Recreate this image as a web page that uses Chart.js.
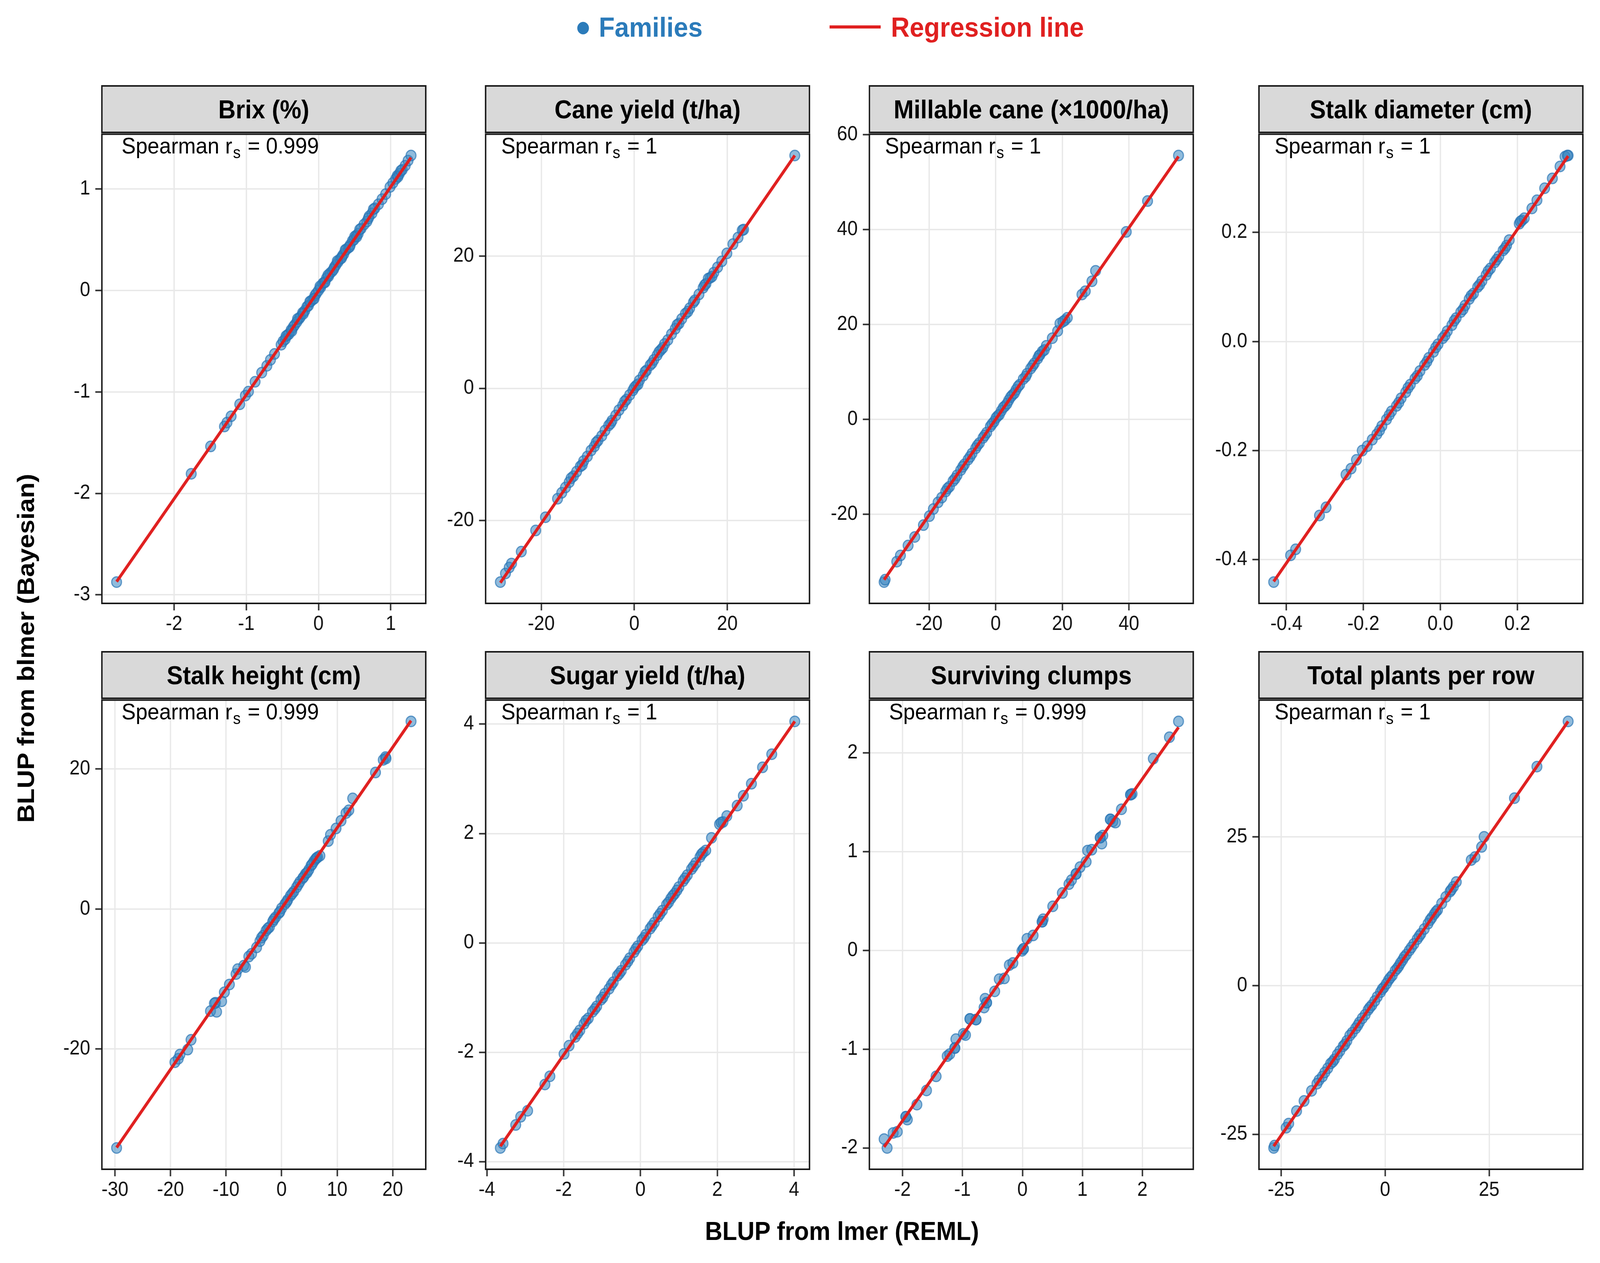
<!DOCTYPE html>
<html>
<head>
<meta charset="utf-8">
<script src="https://cdn.jsdelivr.net/npm/chart.js@4.4.1/dist/chart.umd.min.js"></script>
<style>
html,body{margin:0;padding:0;background:#ffffff;overflow:hidden;}
#page{position:absolute;left:0;top:0;width:4382px;height:3234px;transform-origin:0 0;background:#fff;font-family:"Liberation Sans",Arial,Helvetica,sans-serif;}
canvas{position:absolute;z-index:1;}
.strip{position:absolute;z-index:3;box-sizing:border-box;background:#d9d9d9;border:4px solid #1a1a1a;display:flex;align-items:center;justify-content:center;font-weight:bold;font-size:66px;color:#000;white-space:nowrap;}
.note{position:absolute;z-index:2;font-size:58px;line-height:58px;color:#000;white-space:nowrap;}
.note span{display:inline-block;transform:translateX(10%);}
.note sub{font-size:42px;line-height:0;vertical-align:baseline;position:relative;top:12px;margin-left:2px;margin-right:3px;}
.title{position:absolute;font-weight:bold;font-size:66px;line-height:66px;color:#000;white-space:nowrap;}
.leg{position:absolute;font-weight:bold;font-size:71px;line-height:71px;white-space:nowrap;transform:translateY(-50%);}
</style>
</head>
<body>
<div id="page"></div>
<script>
// ---------------- DATA ----------------
const panelTitles = ['Brix (%)','Cane yield (t/ha)','Millable cane (\u00d71000/ha)','Stalk diameter (cm)',
                     'Stalk height (cm)','Sugar yield (t/ha)','Surviving clumps','Total plants per row'];
const spearmanRs = ['0.999','1','1','1','0.999','1','0.999','1'];

// Brix (%)
const brixX = [-2.795,-1.762,-1.493,-1.302,-1.267,-1.21,-1.09,-1.012,-0.97,-0.878,-0.786,-0.715,-0.665,-0.609,-0.517,-0.49,-0.46,-0.43,-0.41,-0.38,-0.35,-0.33,-0.30,-0.27,-0.25,-0.22,-0.19,-0.16,-0.14,-0.11,-0.08,-0.05,-0.03,0.0,0.03,0.06,0.08,0.11,0.14,0.16,0.19,0.22,0.24,0.27,0.30,0.33,0.35,0.38,0.41,0.44,0.47,0.49,0.52,0.55,0.59,0.63,0.67,0.70,0.74,0.78,0.83,0.88,0.93,0.99,1.03,1.07,1.09,1.12,1.16,1.20,1.24,1.281,
               -0.45,-0.37,-0.29,-0.21,-0.12,-0.06,0.02,0.09,0.13,0.21,0.26,0.32,0.37,0.43,0.50,0.53,0.57,0.69,0.76,1.10,1.14];
const brixY = [-2.874,-1.807,-1.537,-1.341,-1.302,-1.24,-1.122,-1.036,-0.997,-0.90,-0.81,-0.743,-0.684,-0.626,-0.535,-0.50,-0.48,-0.44,-0.43,-0.39,-0.36,-0.34,-0.31,-0.28,-0.26,-0.22,-0.20,-0.16,-0.15,-0.11,-0.09,-0.05,-0.03,0.0,0.03,0.07,0.08,0.12,0.14,0.17,0.19,0.23,0.25,0.28,0.31,0.34,0.36,0.40,0.42,0.45,0.49,0.50,0.54,0.56,0.61,0.65,0.68,0.73,0.76,0.81,0.85,0.90,0.95,1.02,1.06,1.10,1.13,1.15,1.19,1.23,1.28,1.33,
               -0.45,-0.40,-0.28,-0.23,-0.11,-0.08,0.04,0.08,0.15,0.21,0.29,0.32,0.40,0.43,0.53,0.53,0.60,0.71,0.80,1.12,1.18];
const brixRegX = [-2.795, 1.281];
const brixRegY = [-2.87, 1.31];
const brixTicksX = [-2,-1,0,1];
const brixTicksY = [-3,-2,-1,0,1];

// Cane yield (t/ha)
const caneX = [-28.8,-27.7,-26.9,-26.4,-24.3,-21.2,-19.1,-16.5,-15.6,-14.8,-14.0,-13.1,-12.4,-11.6,-10.9,-10.1,-9.3,-8.6,-7.8,-7.0,-6.3,-5.5,-4.8,-4.0,-3.3,-2.5,-1.7,-1.0,-0.3,0.4,1.1,1.9,2.6,3.4,4.2,4.9,5.7,6.5,7.2,8.0,8.8,9.6,10.2,11.0,11.9,12.7,13.0,13.9,14.8,15.4,16.3,17.1,17.9,18.8,19.9,21.2,22.3,23.2,34.5,
               -13.6,-11.2,-8.2,-5.1,-2.1,0.0,0.8,2.3,3.8,5.3,6.1,9.2,11.5,15.1,15.9,16.7,23.5];
const caneY = [-29.3,-28.0,-27.1,-26.5,-24.7,-21.5,-19.5,-16.7,-15.8,-15.0,-14.2,-13.3,-12.6,-11.8,-11.0,-10.3,-9.4,-8.8,-7.9,-7.2,-6.4,-5.6,-4.9,-4.1,-3.3,-2.6,-1.7,-1.0,-0.3,0.4,1.2,1.9,2.7,3.5,4.3,5.0,5.8,6.7,7.3,8.2,9.0,9.8,10.5,11.3,12.1,13.0,13.3,14.2,15.2,15.8,16.7,17.5,18.3,19.2,20.4,21.8,22.8,23.9,35.2,
               -13.6,-11.6,-8.2,-5.3,-2.0,0.1,0.6,2.5,3.8,5.5,6.1,9.6,11.6,15.6,16.6,16.9,24.0];
const caneRegX = [-28.8, 34.5];
const caneRegY = [-29.4, 35.2];
const caneTicksX = [-20,0,20];
const caneTicksY = [-20,0,20];

// Millable cane (x1000/ha)
const millX = [-33.5,-33.2,-29.7,-28.6,-26.3,-24.3,-21.7,-19.9,-18.7,-17.3,-16.2,-15.0,-13.9,-12.8,-11.6,-10.5,-9.4,-8.3,-7.1,-6.0,-4.9,-3.8,-2.7,-1.6,-0.5,0.6,1.7,2.8,3.9,5.0,6.1,7.2,8.3,9.4,10.5,11.6,12.6,13.3,14.0,15.2,17.0,18.6,19.3,20.8,21.5,25.9,26.9,28.9,30.0,39.2,45.6,54.9,
               -14.5,-12.2,-9.9,-7.7,-5.5,-3.3,-1.1,0.1,1.1,2.3,3.4,4.5,5.6,6.7,9.0,11.1,13.0,14.6,20.2];
const millY = [-34.3,-33.8,-30.0,-28.7,-26.6,-24.8,-22.3,-20.4,-18.9,-17.5,-16.5,-15.2,-14.2,-13.0,-11.8,-10.7,-9.5,-8.5,-7.2,-6.1,-5.0,-3.9,-2.8,-1.5,-0.5,0.7,1.8,2.8,4.0,5.1,6.2,7.3,8.5,9.6,10.7,11.8,12.8,13.6,14.3,15.5,17.1,18.6,20.2,20.9,21.4,26.3,27.0,29.1,31.3,39.5,46.0,55.6,
               -14.6,-12.5,-10.0,-7.9,-5.5,-3.4,-1.0,0.3,1.0,2.5,3.3,4.7,5.5,6.9,9.0,11.3,13.4,14.6,20.6];
const millRegX = [-33.5, 54.9];
const millRegY = [-33.8, 55.4];
const millTicksX = [-20,0,20,40];
const millTicksY = [-20,0,20,40,60];

// Stalk diameter (cm)
const diamX = [-0.433,-0.389,-0.376,-0.314,-0.297,-0.245,-0.232,-0.218,-0.203,-0.19,-0.177,-0.165,-0.152,-0.14,-0.127,-0.114,-0.102,-0.09,-0.078,-0.066,-0.053,-0.041,-0.03,-0.018,-0.006,0.006,0.018,0.03,0.041,0.053,0.064,0.075,0.086,0.097,0.108,0.119,0.13,0.141,0.152,0.163,0.172,0.179,0.205,0.212,0.218,0.238,0.251,0.271,0.291,0.311,0.324,0.332,
               -0.158,-0.133,-0.108,-0.084,-0.06,-0.035,-0.012,0.012,0.036,0.059,0.08,0.102,0.124,0.146,0.168,0.208,0.33];
const diamY = [-0.441,-0.392,-0.381,-0.319,-0.304,-0.244,-0.233,-0.217,-0.2,-0.192,-0.18,-0.17,-0.155,-0.143,-0.128,-0.118,-0.104,-0.093,-0.079,-0.068,-0.054,-0.043,-0.03,-0.019,-0.005,0.006,0.019,0.03,0.043,0.054,0.066,0.078,0.088,0.1,0.111,0.122,0.134,0.145,0.156,0.167,0.176,0.186,0.216,0.222,0.226,0.244,0.259,0.281,0.299,0.321,0.339,0.341,
               -0.163,-0.135,-0.112,-0.085,-0.063,-0.037,-0.011,0.011,0.038,0.059,0.084,0.104,0.129,0.15,0.171,0.22,0.341];
const diamRegX = [-0.433, 0.332];
const diamRegY = [-0.44, 0.34];
const diamTicksX = [-0.4,-0.2,0.0,0.2];
const diamTicksY = [-0.4,-0.2,0.0,0.2];

// Stalk height (cm)
const heightX = [-29.7,-19.2,-18.6,-18.3,-16.9,-16.3,-12.8,-11.9,-11.7,-10.8,-10.3,-9.4,-8.2,-6.8,-6.5,-5.4,-4.5,-3.9,-3.3,-2.8,-2.2,-1.6,-1.1,-0.5,0.0,0.6,1.1,1.6,2.2,2.7,3.3,3.8,4.3,4.9,5.3,5.8,6.1,6.5,8.4,8.8,9.8,10.7,11.6,12.1,12.8,16.9,18.3,18.7,23.3,
                 -3.6,-2.5,-1.4,-0.3,0.9,1.9,3.0,4.0,4.6,5.5,6.3,6.9,-5.9,-7.9,-12.1,18.8];
const heightY = [-34.15,-21.9,-21.4,-20.8,-20.1,-18.7,-14.6,-13.4,-14.7,-13.2,-11.9,-10.8,-9.3,-8.1,-8.3,-6.4,-5.5,-4.6,-3.8,-3.1,-2.6,-1.8,-1.2,-0.6,0.1,0.7,1.3,1.9,2.5,3.1,3.9,4.4,5.0,5.6,6.2,6.8,7.1,7.4,9.7,10.6,11.5,12.6,13.7,14.1,15.8,19.5,21.3,21.7,26.8,
                 -4.1,-2.8,-1.5,-0.4,1.0,2.2,3.5,4.6,5.2,6.4,7.3,7.6,-6.8,-8.6,-13.5,21.5];
const heightRegX = [-29.7, 23.3];
const heightRegY = [-34.1, 26.9];
const heightTicksX = [-30,-20,-10,0,10,20];
const heightTicksY = [-20,0,20];

// Sugar yield (t/ha)
const sugarX = [-3.65,-3.58,-3.25,-3.12,-2.94,-2.49,-2.36,-1.99,-1.86,-1.70,-1.58,-1.47,-1.36,-1.25,-1.14,-1.03,-0.93,-0.82,-0.71,-0.60,-0.50,-0.39,-0.28,-0.17,-0.07,0.04,0.14,0.25,0.36,0.46,0.57,0.68,0.79,0.89,1.00,1.11,1.22,1.33,1.44,1.55,1.63,1.70,1.85,2.06,2.15,2.25,2.52,2.68,2.89,3.18,3.42,4.02,
                -1.64,-1.42,-1.19,-0.98,-0.76,-0.55,-0.33,-0.12,0.09,0.30,0.51,0.73,0.84,0.95,1.16,1.38,1.59,2.10];
const sugarY = [-3.75,-3.67,-3.33,-3.18,-3.07,-2.59,-2.44,-2.03,-1.88,-1.72,-1.60,-1.48,-1.38,-1.26,-1.16,-1.04,-0.93,-0.84,-0.72,-0.60,-0.51,-0.40,-0.28,-0.17,-0.06,0.05,0.15,0.26,0.37,0.48,0.59,0.70,0.81,0.90,1.02,1.13,1.24,1.35,1.46,1.57,1.65,1.69,1.92,2.17,2.21,2.32,2.51,2.69,2.91,3.21,3.45,4.05,
                -1.66,-1.42,-1.21,-1.00,-0.77,-0.56,-0.34,-0.11,0.09,0.31,0.53,0.74,0.86,0.96,1.18,1.40,1.62,2.20];
const sugarRegX = [-3.65, 4.02];
const sugarRegY = [-3.72, 4.05];
const sugarTicksX = [-4,-2,0,2,4];
const sugarTicksY = [-4,-2,0,2,4];

// Surviving clumps
const clumpX = [-2.307,-2.257,-2.156,-2.088,-1.945,-1.92,-1.76,-1.60,-1.44,-1.255,-1.213,-1.128,-1.11,-0.985,-0.95,-0.876,-0.775,-0.64,-0.623,-0.598,-0.463,-0.387,-0.303,-0.219,-0.16,-0.008,0.017,0.076,0.177,0.328,0.345,0.505,0.665,0.775,0.817,0.893,0.96,1.061,1.086,1.154,1.297,1.339,1.322,1.465,1.507,1.549,1.65,1.802,1.827,2.181,2.45,2.602,
                -0.775,-0.876,0.328,-0.598,1.465,1.297,1.802,0.017,-1.945,-1.128,0.893];
const clumpY = [-1.91,-2.0,-1.848,-1.836,-1.684,-1.713,-1.561,-1.418,-1.275,-1.07,-1.049,-0.988,-0.898,-0.844,-0.857,-0.693,-0.70,-0.578,-0.488,-0.529,-0.414,-0.291,-0.283,-0.148,-0.127,-0.004,0.016,0.119,0.152,0.291,0.316,0.447,0.582,0.672,0.713,0.775,0.844,0.898,1.012,1.02,1.143,1.164,1.082,1.328,1.307,1.295,1.43,1.578,1.586,1.943,2.16,2.32,
                -0.70,-0.693,0.291,-0.529,1.328,1.143,1.578,0.016,-1.684,-0.988,0.775];
const clumpRegX = [-2.307, 2.602];
const clumpRegY = [-1.99, 2.26];
const clumpTicksX = [-2,-1,0,1,2];
const clumpTicksY = [-2,-1,0,1,2];

// Total plants per row
const plantsX = [-26.8,-26.6,-23.8,-23.2,-21.3,-19.5,-17.7,-15.9,-15.1,-13.8,-13.1,-12.2,-10.9,-10.1,-9.2,-7.9,-7.1,-6.2,-4.8,-4.1,-3.2,-1.9,-1.1,-0.3,0.8,1.7,2.4,3.3,4.2,5.1,5.8,6.9,7.7,8.6,9.4,10.3,11.2,11.8,12.6,13.6,14.6,15.6,16.4,17.1,20.7,21.6,23.2,23.8,31.1,36.5,44.0,
                 -16.4,-14.5,-12.6,-11.5,-9.7,-8.5,-6.6,-5.5,-3.7,-2.5,-0.7,0.3,1.2,2.9,3.7,4.6,6.3,8.2,10.8,12.2,15.9];
const plantsY = [-27.3,-26.9,-23.9,-23.2,-21.1,-19.4,-17.7,-15.9,-15.3,-13.9,-13.1,-12.4,-11.0,-10.2,-9.3,-7.9,-7.2,-6.2,-4.9,-4.1,-3.3,-1.9,-1.1,-0.3,0.9,1.7,2.5,3.3,4.3,5.2,5.9,7.0,7.8,8.7,9.5,10.4,11.4,12.0,12.7,13.8,14.9,15.8,16.6,17.4,21.1,21.6,23.3,25.0,31.5,36.8,44.4,
                 -16.5,-14.6,-12.8,-11.6,-9.9,-8.4,-6.7,-5.5,-3.7,-2.6,-0.6,0.3,1.3,2.9,3.8,4.8,6.4,8.3,11.0,12.4,16.1];
const plantsRegX = [-26.8, 44.0];
const plantsRegY = [-27.0, 44.4];
const plantsTicksX = [-25,0,25];
const plantsTicksY = [-25,0,25];

const tickDecimals = [0,0,0,1,0,0,0,0];

// ---------------- LAYOUT / STYLE ----------------
const PAGE_W = 4382, PAGE_H = 3234;
const COL_LEFT = [279, 1330, 2381, 3448];
const ROW_PLOT_TOP = [339, 1788];
const ROW_STRIP_TOP = [220, 1669];
const PANEL_W = 887, PANEL_H = 1206;
const Y_W = 220, X_H = 120, R_PAD = 60, T_PAD = 40;
const RED = '#e02020';
const BLUE = '#2b7bba';

// fit the 4382x3234 design to whatever viewport the page is given
const page = document.getElementById('page');
const vw = window.innerWidth || document.documentElement.clientWidth || PAGE_W;
const vh = window.innerHeight || document.documentElement.clientHeight || PAGE_H;
const SX = vw / PAGE_W, SY = vh / PAGE_H;
page.style.transform = 'scale(' + SX + ',' + SY + ')';
const DPR = (window.devicePixelRatio || 1) * Math.max(SX, SY);

Chart.defaults.font.family = "'Liberation Sans', Arial, sans-serif";

const panels = [
  {x:brixX, y:brixY, rx:brixRegX, ry:brixRegY, tx:brixTicksX, ty:brixTicksY},
  {x:caneX, y:caneY, rx:caneRegX, ry:caneRegY, tx:caneTicksX, ty:caneTicksY},
  {x:millX, y:millY, rx:millRegX, ry:millRegY, tx:millTicksX, ty:millTicksY},
  {x:diamX, y:diamY, rx:diamRegX, ry:diamRegY, tx:diamTicksX, ty:diamTicksY},
  {x:heightX, y:heightY, rx:heightRegX, ry:heightRegY, tx:heightTicksX, ty:heightTicksY},
  {x:sugarX, y:sugarY, rx:sugarRegX, ry:sugarRegY, tx:sugarTicksX, ty:sugarTicksY},
  {x:clumpX, y:clumpY, rx:clumpRegX, ry:clumpRegY, tx:clumpTicksX, ty:clumpTicksY},
  {x:plantsX, y:plantsY, rx:plantsRegX, ry:plantsRegY, tx:plantsTicksX, ty:plantsTicksY}
];

const panelBorder = {
  id:'panelBorder',
  afterDraw(chart){
    const a = chart.chartArea, c = chart.ctx;
    c.save();
    c.strokeStyle = '#1a1a1a';
    c.lineWidth = 4;
    c.strokeRect(a.left, a.top, a.right - a.left, a.bottom - a.top);
    c.restore();
  }
};

function expandRange(arr){
  const lo = Math.min(...arr), hi = Math.max(...arr), d = (hi - lo) * 0.05;
  return [lo - d, hi + d];
}

function axisOpts(range, ticks, dec, isX){
  return {
    type:'linear', min:range[0], max:range[1], bounds:'data',
    afterBuildTicks:(s)=>{ s.ticks = ticks.map(v=>({value:v})); },
    afterFit:(s)=>{ if(isX){ s.height = X_H; } else { s.width = Y_W; } },
    grid:{color:'#e8e8e8', lineWidth:3.5, drawTicks:true, tickLength:18, tickWidth:4, tickColor:'#333333'},
    border:{display:false},
    ticks:{
      font:{size:51}, color:'#111111', padding: isX ? 5 : 14,
      maxRotation:0, minRotation:0, autoSkip:false,
      callback:(v)=> dec ? Number(v).toFixed(dec) : String(v)
    }
  };
}

function addDiv(cls, styles, html){
  const d = document.createElement('div');
  if(cls) d.className = cls;
  Object.assign(d.style, styles);
  if(html !== undefined) d.innerHTML = html;
  page.appendChild(d);
  return d;
}

panels.forEach((p, i)=>{
  const col = i % 4, row = Math.floor(i / 4);
  const left = COL_LEFT[col], top = ROW_PLOT_TOP[row];

  // strip
  const st = addDiv('strip', {
    left:(left - 2) + 'px', top:(ROW_STRIP_TOP[row] - 2) + 'px',
    width:(PANEL_W + 4) + 'px', height:(top - ROW_STRIP_TOP[row] + 4) + 'px'
  });
  st.textContent = panelTitles[i];

  // annotation
  addDiv('note', {left:left + 'px', top:(top + 5) + 'px'},
         '<span>Spearman r<sub>s</sub> = ' + spearmanRs[i] + '</span>');

  // chart
  const W = Y_W + PANEL_W + R_PAD, H = T_PAD + PANEL_H + X_H;
  const cv = document.createElement('canvas');
  cv.width = W; cv.height = H;
  cv.style.left = (left - Y_W) + 'px';
  cv.style.top = (top - T_PAD) + 'px';
  cv.style.width = W + 'px'; cv.style.height = H + 'px';
  page.appendChild(cv);

  const pts = p.x.map((v,k)=>({x:v, y:p.y[k]}));
  const reg = p.rx.map((v,k)=>({x:v, y:p.ry[k]}));

  new Chart(cv, {
    type:'scatter',
    data:{datasets:[
      {type:'line', label:'Regression line', data:reg, borderColor:RED, borderWidth:8, pointRadius:0, fill:false, tension:0, order:0},
      {type:'scatter', label:'Families', data:pts, pointRadius:13.5, pointHoverRadius:13.5,
       backgroundColor:'rgba(52,132,192,0.55)', borderColor:'rgba(40,116,180,0.72)', borderWidth:3, order:1}
    ]},
    options:{
      responsive:false, animation:false, devicePixelRatio:DPR,
      layout:{padding:{top:T_PAD, right:R_PAD, left:0, bottom:0}},
      plugins:{legend:{display:false}, tooltip:{enabled:false}},
      scales:{
        x: axisOpts(expandRange(p.x), p.tx, tickDecimals[i], true),
        y: axisOpts(expandRange(p.y), p.ty, tickDecimals[i], false)
      }
    },
    plugins:[panelBorder]
  });
});

// legend
addDiv('', {position:'absolute', left:'1581px', top:'56px', width:'32px', height:'32px', borderRadius:'50%', background:BLUE});
addDiv('leg', {left:'1640px', top:'69px', color:BLUE}, 'Families');
addDiv('', {position:'absolute', left:'2272px', top:'65px', width:'140px', height:'8px', background:RED});
addDiv('leg', {left:'2440px', top:'69px', color:RED}, 'Regression line');

// axis titles
addDiv('title', {left:'2306px', top:'3152px', transform:'translate(-50%,-50%)'}, 'BLUP from lmer (REML)');
addDiv('title', {left:'70px', top:'1660px', transform:'translate(-50%,-50%) rotate(-90deg)'}, 'BLUP from blmer (Bayesian)');
</script>
</body>
</html>
